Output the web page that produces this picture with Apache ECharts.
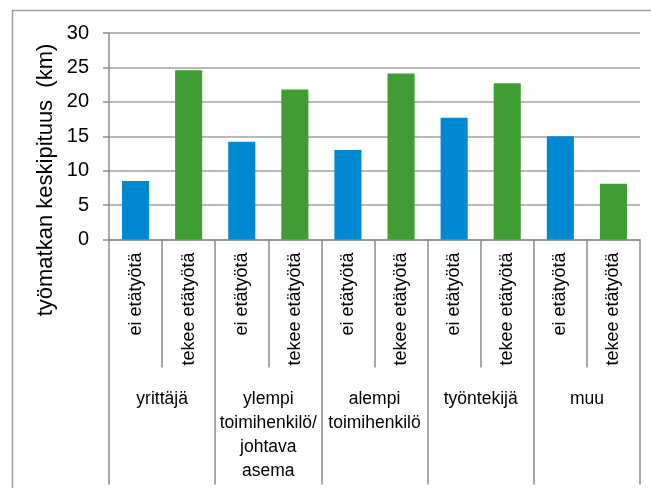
<!DOCTYPE html>
<html>
<head>
<meta charset="utf-8">
<script src="https://cdn.jsdelivr.net/npm/echarts@6/dist/echarts.min.js"></script>
<style>
html,body{margin:0;padding:0;background:#fff;}
#chart{width:651px;height:488px;}
</style>
</head>
<body>
<div id="chart"></div>
<script>
const groups = ['yrittäjä', 'ylempi\ntoimihenkilö/\njohtava\nasema', 'alempi\ntoimihenkilö', 'työntekijä', 'muu'];
const subLabels = ['ei etätyötä', 'tekee etätyötä'];
const eiEtatyota = [8.5, 14.2, 13.0, 17.7, 15.0];
const tekeeEtatyota = [24.6, 21.8, 24.1, 22.7, 8.1];
const yTicks = [0, 5, 10, 15, 20, 25, 30];
const yTitle = 'työmatkan keskipituus  (km)';

const colors = ['#0088d0', '#409c35'];
const subCats = [];
const barData = [];
groups.forEach((g, i) => {
  subCats.push(subLabels[0], subLabels[1]);
  barData.push({ value: eiEtatyota[i], itemStyle: { color: colors[0] } });
  barData.push({ value: tekeeEtatyota[i], itemStyle: { color: colors[1] } });
});

const font = "'Liberation Sans', Arial, sans-serif";
const chart = echarts.init(document.getElementById('chart'));
chart.setOption({
  animation: false,
  grid: { left: 109, right: 11, top: 33, bottom: 248.5 },
  xAxis: [
    {
      type: 'category',
      data: subCats,
      position: 'bottom',
      axisLine: { show: true, lineStyle: { color: '#8c8c8c', width: 1.5 } },
      axisTick: { show: true, length: 128, inside: false, lineStyle: { color: '#8c8c8c', width: 1.5 } },
      axisLabel: {
        rotate: 90, margin: 13, fontSize: 18, fontFamily: font, color: '#000', interval: 0
      }
    },
    {
      type: 'category',
      data: groups,
      position: 'bottom',
      axisLine: { show: false },
      axisTick: { show: true, length: 245, lineStyle: { color: '#8c8c8c', width: 1.5 } },
      axisLabel: {
        margin: 148, fontSize: 17.5, lineHeight: 24, fontFamily: font, color: '#000',
        interval: 0, align: 'center', verticalAlign: 'top'
      }
    }
  ],
  yAxis: {
    type: 'value',
    min: yTicks[0],
    max: yTicks[yTicks.length - 1],
    interval: 5,
    axisLine: { show: true, lineStyle: { color: '#8c8c8c', width: 1.5 } },
    axisTick: { show: true, length: 6, lineStyle: { color: '#8c8c8c', width: 1.5 } },
    axisLabel: { margin: 20, fontSize: 20, fontFamily: font, color: '#000' },
    splitLine: { show: true, lineStyle: { color: '#a0a0a0', width: 1.5 } }
  },
  series: [
    {
      type: 'bar',
      xAxisIndex: 0,
      barWidth: '51%',
      data: barData
    }
  ],
  graphic: [
    {
      type: 'rect',
      shape: { x: 12.5, y: 10.5, width: 700, height: 600 },
      style: { fill: 'none', stroke: '#a0a0a0', lineWidth: 1.5 },
      silent: true
    },
    {
      type: 'text',
      x: 46, y: 180,
      rotation: Math.PI / 2,
      style: {
        text: yTitle, fontSize: 22, fontFamily: font, fill: '#000',
        align: 'center', verticalAlign: 'middle'
      }
    }
  ]
});
</script>
</body>
</html>
